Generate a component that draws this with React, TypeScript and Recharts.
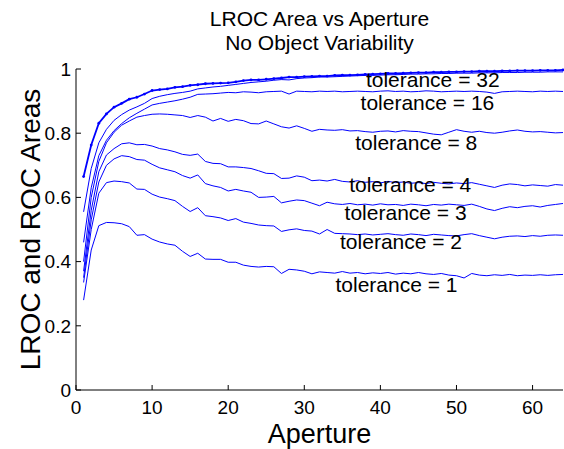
import React from 'react';
import { LineChart, Line, XAxis, YAxis, ReferenceDot } from 'recharts';

const apertures: number[] = Array.from({ length: 64 }, (_, i) => i + 1);

const rocArea = [0.665,0.763,0.831,0.860,0.881,0.893,0.906,0.912,0.922,0.933,0.936,0.938,0.943,0.945,0.949,0.951,0.954,0.955,0.956,0.957,0.960,0.964,0.966,0.966,0.968,0.970,0.972,0.975,0.975,0.976,0.977,0.978,0.978,0.980,0.981,0.981,0.982,0.983,0.984,0.985,0.986,0.986,0.987,0.988,0.989,0.989,0.990,0.990,0.991,0.991,0.992,0.992,0.993,0.993,0.993,0.994,0.994,0.995,0.995,0.995,0.996,0.996,0.996,0.997];
const tol32 = [0.555,0.690,0.770,0.812,0.840,0.858,0.872,0.882,0.893,0.908,0.915,0.920,0.924,0.927,0.931,0.938,0.941,0.944,0.946,0.949,0.952,0.955,0.958,0.960,0.962,0.965,0.967,0.966,0.970,0.972,0.973,0.975,0.975,0.976,0.977,0.978,0.979,0.980,0.980,0.981,0.982,0.982,0.983,0.984,0.984,0.985,0.985,0.986,0.986,0.987,0.987,0.987,0.988,0.988,0.988,0.989,0.989,0.989,0.990,0.990,0.990,0.991,0.991,0.991];
const tol16 = [0.460,0.630,0.730,0.778,0.808,0.830,0.848,0.862,0.875,0.888,0.893,0.897,0.901,0.906,0.912,0.921,0.922,0.923,0.925,0.927,0.926,0.929,0.928,0.926,0.929,0.930,0.931,0.922,0.931,0.930,0.929,0.931,0.930,0.931,0.929,0.930,0.931,0.930,0.929,0.931,0.932,0.930,0.931,0.929,0.930,0.932,0.931,0.929,0.930,0.931,0.930,0.931,0.930,0.928,0.924,0.929,0.930,0.931,0.930,0.929,0.931,0.930,0.931,0.930];
const tol8 = [0.400,0.600,0.712,0.770,0.803,0.825,0.838,0.850,0.855,0.859,0.860,0.859,0.857,0.855,0.849,0.855,0.850,0.838,0.846,0.837,0.843,0.839,0.830,0.829,0.838,0.829,0.820,0.816,0.823,0.815,0.806,0.812,0.810,0.809,0.811,0.807,0.808,0.805,0.803,0.806,0.807,0.804,0.808,0.806,0.805,0.801,0.797,0.795,0.803,0.811,0.806,0.803,0.806,0.802,0.800,0.803,0.807,0.810,0.806,0.804,0.805,0.803,0.801,0.802];
const tol4 = [0.370,0.560,0.680,0.732,0.752,0.767,0.770,0.764,0.765,0.760,0.752,0.748,0.742,0.734,0.731,0.735,0.712,0.706,0.705,0.695,0.695,0.693,0.690,0.683,0.675,0.674,0.659,0.660,0.667,0.663,0.652,0.654,0.651,0.656,0.650,0.648,0.652,0.647,0.649,0.645,0.650,0.646,0.648,0.644,0.646,0.643,0.647,0.644,0.642,0.645,0.643,0.646,0.641,0.636,0.631,0.638,0.642,0.640,0.636,0.639,0.637,0.635,0.640,0.638];
const tol3 = [0.350,0.530,0.648,0.700,0.720,0.730,0.727,0.718,0.716,0.703,0.692,0.686,0.680,0.668,0.660,0.670,0.643,0.636,0.631,0.620,0.625,0.620,0.616,0.600,0.601,0.603,0.583,0.588,0.592,0.590,0.582,0.574,0.585,0.580,0.578,0.581,0.577,0.579,0.576,0.580,0.577,0.578,0.575,0.579,0.577,0.574,0.578,0.576,0.579,0.577,0.575,0.579,0.572,0.564,0.559,0.566,0.571,0.568,0.572,0.574,0.570,0.575,0.578,0.581];
const tol2 = [0.335,0.500,0.613,0.646,0.651,0.649,0.645,0.626,0.625,0.610,0.601,0.596,0.590,0.572,0.556,0.568,0.543,0.540,0.536,0.528,0.534,0.523,0.519,0.514,0.512,0.511,0.494,0.499,0.502,0.497,0.495,0.486,0.500,0.488,0.487,0.486,0.484,0.486,0.483,0.485,0.487,0.484,0.482,0.486,0.484,0.481,0.485,0.483,0.481,0.480,0.484,0.487,0.481,0.476,0.471,0.476,0.479,0.480,0.478,0.481,0.479,0.482,0.483,0.482];
const tol1 = [0.280,0.436,0.512,0.522,0.521,0.518,0.509,0.482,0.484,0.470,0.461,0.455,0.451,0.432,0.416,0.426,0.408,0.407,0.407,0.398,0.398,0.389,0.385,0.383,0.385,0.384,0.363,0.376,0.374,0.370,0.362,0.368,0.366,0.364,0.369,0.364,0.366,0.362,0.365,0.363,0.366,0.361,0.364,0.362,0.366,0.362,0.360,0.363,0.358,0.356,0.349,0.363,0.358,0.356,0.359,0.357,0.360,0.356,0.358,0.357,0.359,0.357,0.359,0.360];

const xTicks = [0, 10, 20, 30, 40, 50, 60];
const yTicks = [0, 0.2, 0.4, 0.6, 0.8, 1];

const labelTexts = ['tolerance = 32', 'tolerance = 16', 'tolerance = 8', 'tolerance = 4', 'tolerance = 3', 'tolerance = 2', 'tolerance = 1'];
const labelX = [38.1, 37.4, 36.7, 35.9, 35.3, 34.7, 34.1];
const labelY = [0.966, 0.895, 0.772, 0.639, 0.552, 0.462, 0.327];

const seriesKeys = ['t32', 't16', 't8', 't4', 't3', 't2', 't1'];
const seriesValues = [tol32, tol16, tol8, tol4, tol3, tol2, tol1];

const data = apertures.map((x, i) => {
  const row: Record<string, number> = { x, roc: rocArea[i] };
  seriesKeys.forEach((k, j) => { row[k] = seriesValues[j][i]; });
  return row;
});

const FONT = '"Liberation Sans", Arial, Helvetica, sans-serif';
const BLUE = '#0000ff';

export default function App() {
  return (
    <div style={{ position: 'absolute', left: 0, top: 0, width: 564, height: 449, background: '#fff', fontFamily: FONT }}>
      <div style={{ position: 'absolute', left: 76, top: 7, width: 487, textAlign: 'center', fontSize: 21, lineHeight: '24px', color: '#000' }}>
        <div>LROC Area vs Aperture</div>
        <div>No Object Variability</div>
      </div>
      <LineChart width={564} height={449} data={data} margin={{ top: 69, right: 1, bottom: 0, left: 0 }} style={{ fontFamily: FONT }}>
        <XAxis
          xAxisId="b"
          dataKey="x"
          type="number"
          domain={[0, 64]}
          ticks={xTicks}
          height={59}
          stroke="#000"
          tickSize={-5}
          tickMargin={16}
          tick={{ fill: '#000', fontSize: 19, fontFamily: FONT }}
          label={(p: any) => (
            <text x={p.viewBox.x + p.viewBox.width / 2} y={p.viewBox.y + 53} textAnchor="middle" fontSize={27} fontFamily={FONT} fill="#000">Aperture</text>
          )}
        />
        <XAxis xAxisId="t" orientation="top" dataKey="x" type="number" domain={[0, 64]} ticks={xTicks} height={0} stroke="#000" tickSize={-5} tick={false} />
        <YAxis
          yAxisId="l"
          type="number"
          domain={[0, 1]}
          ticks={yTicks}
          width={76}
          stroke="#000"
          tickSize={-5}
          tickMargin={10}
          tick={{ fill: '#000', fontSize: 19, fontFamily: FONT }}
          label={(p: any) => {
            const cx = p.viewBox.x + 40;
            const cy = p.viewBox.y + p.viewBox.height / 2;
            return (
              <text x={cx} y={cy} transform={`rotate(-90 ${cx} ${cy})`} textAnchor="middle" fontSize={28} fontFamily={FONT} fill="#000">LROC and ROC Areas</text>
            );
          }}
        />
        <YAxis yAxisId="r" orientation="right" type="number" domain={[0, 1]} ticks={yTicks} width={0} stroke="#000" tickSize={-5} tick={false} />
        {seriesKeys.map((k) => (
          <Line key={k} xAxisId="b" yAxisId="l" type="linear" dataKey={k} stroke={BLUE} strokeWidth={1} dot={false} isAnimationActive={false} />
        ))}
        <Line xAxisId="b" yAxisId="l" type="linear" dataKey="roc" stroke={BLUE} strokeWidth={1.8} dot={{ r: 1.4, fill: BLUE, stroke: 'none' }} isAnimationActive={false} />
        {labelTexts.map((t, i) => (
          <ReferenceDot
            key={t}
            xAxisId="b"
            yAxisId="l"
            x={labelX[i]}
            y={labelY[i]}
            r={0}
            fill="none"
            stroke="none"
            label={{ value: t, position: 'right', offset: 0, fontSize: 21, fill: '#000', fontFamily: FONT }}
          />
        ))}
      </LineChart>
    </div>
  );
}
